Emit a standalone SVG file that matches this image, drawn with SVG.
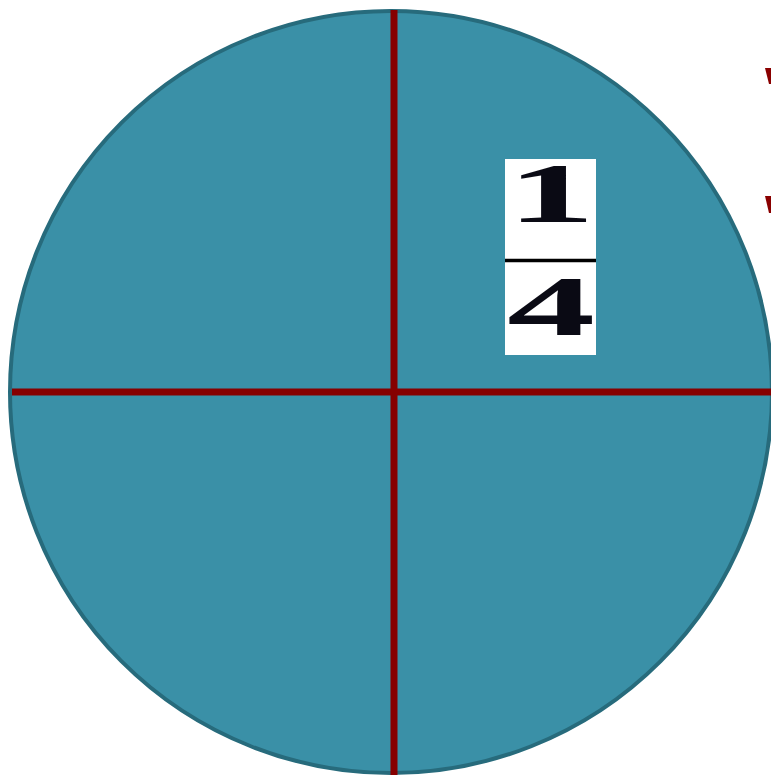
<svg xmlns="http://www.w3.org/2000/svg" width="771" height="775" viewBox="0 0 771 775">
<style>
.div{stroke:#860000;stroke-width:7;fill:none}
.digit{font-family:"Liberation Serif","DejaVu Serif",serif;font-weight:bold;font-size:84px;fill:#0a0a14;text-anchor:middle}
</style>
<rect width="771" height="775" fill="#ffffff"/>
<g id="bullets" fill="#8a0000">
<polygon points="765,68 771,68 771,84 769,84"/>
<polygon points="765,196 771,196 771,213 769,213"/>
</g>
<g id="circle">
<circle cx="391" cy="392" r="381" fill="#3a90a7" stroke="#276b7c" stroke-width="4"/>
</g>
<g id="connectors">
<line class="div" x1="394" y1="10" x2="394" y2="775"/>
<line class="div" x1="12" y1="392" x2="771" y2="392"/>
</g>
<g id="fraction">
<rect x="505" y="159" width="91" height="196" fill="#ffffff"/>
<line x1="505" y1="260.5" x2="596" y2="260.5" stroke="#000" stroke-width="3.5"/>
<g transform="translate(551,0) scale(2.1,1)">
<text class="digit" x="0" y="222">1</text>
<text class="digit" x="0" y="335">4</text>
</g>
</g>
</svg>
